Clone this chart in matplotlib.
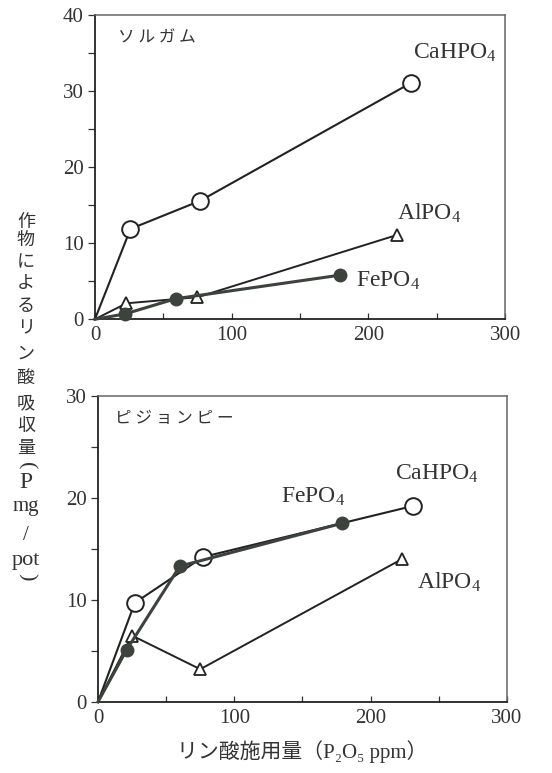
import matplotlib
matplotlib.use('Agg')
import matplotlib.pyplot as plt
from matplotlib.ticker import MultipleLocator, FuncFormatter

plt.rcParams['font.family'] = ['Liberation Serif', 'DejaVu Serif', 'Noto Sans CJK JP']
plt.rcParams['mathtext.fontset'] = 'custom'
plt.rcParams['mathtext.rm'] = 'Liberation Serif'
plt.rcParams['mathtext.default'] = 'rm'

# ソルガム (top)
sor_ca_x = [0, 26, 77, 231]
sor_ca_y = [0, 11.9, 15.6, 31.1]
sor_al_x = [0, 23, 75, 221]
sor_al_y = [0, 2.1, 2.9, 11.1]
sor_fe_x = [0, 22, 59, 179]
sor_fe_y = [0, 0.7, 2.7, 5.8]

# ピジョンピー (bottom)
pig_ca_x = [0, 27, 77, 231]
pig_ca_y = [0, 9.7, 14.2, 19.2]
pig_fe_x = [0, 21, 60, 179]
pig_fe_y = [0, 5.1, 13.3, 17.5]
pig_al_x = [0, 25, 75, 223]
pig_al_y = [0, 6.5, 3.2, 14.0]

# vertical y label, one piece per line
ylab = ['作', '物', 'に', 'よ', 'る', 'リ', 'ン', '酸', '吸', '収', '量',
        '(', 'P', 'mg', '/', 'pot', ')']

line_c = '#222222'
fill_c = '#3c423c'
txt_c = '#333333'

fig = plt.figure(figsize=(5.52, 7.73), dpi=100)
ax1 = fig.add_axes([0.172, 0.587, 0.743, 0.393])
ax2 = fig.add_axes([0.1775, 0.092, 0.741, 0.396])


def style(ax, ymax, ystep):
    ax.set_xlim(0, 300)
    ax.set_ylim(0, ymax)
    ax.xaxis.set_major_locator(MultipleLocator(100))
    ax.xaxis.set_minor_locator(MultipleLocator(50))
    ax.yaxis.set_major_locator(MultipleLocator(ystep))
    ax.yaxis.set_minor_locator(MultipleLocator(ystep / 2))
    fmt = FuncFormatter(lambda v, p: '%d' % v)
    ax.xaxis.set_major_formatter(fmt)
    ax.yaxis.set_major_formatter(fmt)
    ax.tick_params(axis='x', which='both', direction='in', length=4,
                   width=0.9, labelsize=15, pad=5, colors=txt_c)
    ax.tick_params(axis='y', which='both', direction='out', length=5,
                   width=0.9, labelsize=15, pad=3, colors=txt_c)
    for lab in ax.get_xticklabels() + ax.get_yticklabels():
        lab.set_fontfamily('Liberation Serif')
    for s in ['left', 'bottom']:
        ax.spines[s].set_linewidth(1.3)
        ax.spines[s].set_color('#222222')
    for s in ['top', 'right']:
        ax.spines[s].set_linewidth(1.1)
        ax.spines[s].set_color('#666666')


def draw(ax, x, y, kind):
    if kind == 'open':
        ax.plot(x, y, '-', color=line_c, lw=1.5, marker='o', ms=12,
                mfc='white', mec=line_c, mew=1.4, markevery=slice(1, None),
                clip_on=False, zorder=4)
    elif kind == 'tri':
        ax.plot(x, y, '-', color=line_c, lw=1.4, marker='^', ms=9,
                mfc='white', mec=line_c, mew=1.3, markevery=slice(1, None),
                clip_on=False, zorder=3)
    else:
        ax.plot(x, y, '-', color=fill_c, lw=2.2, marker='o', ms=9,
                mfc=fill_c, mec=fill_c, markevery=slice(1, None),
                clip_on=False, zorder=5)


style(ax1, 40, 10)
draw(ax1, sor_ca_x, sor_ca_y, 'open')
draw(ax1, sor_al_x, sor_al_y, 'tri')
draw(ax1, sor_fe_x, sor_fe_y, 'fill')
ax1.text(17, 37.1, 'ソ ル ガ ム', fontsize=12, va='center', color=txt_c,
         family=['Noto Sans CJK JP'])
ax1.text(233, 35.1, 'CaHPO$_4$', fontsize=17, va='center', color=txt_c)
ax1.text(221, 13.9, 'AlPO$_4$', fontsize=17, va='center', color=txt_c)
ax1.text(191, 5.0, 'FePO$_4$', fontsize=17, va='center', color=txt_c)

style(ax2, 30, 10)
draw(ax2, pig_ca_x, pig_ca_y, 'open')
draw(ax2, pig_al_x, pig_al_y, 'tri')
draw(ax2, pig_fe_x, pig_fe_y, 'fill')
ax2.text(12.5, 27.8, 'ピ ジ ョ ン ピ ー', fontsize=12, va='center', color=txt_c,
         family=['Noto Sans CJK JP'])
ax2.text(218, 22.3, 'CaHPO$_4$', fontsize=17, va='center', color=txt_c)
ax2.text(134, 20.1, 'FePO$_4$', fontsize=17, va='center', color=txt_c)
ax2.text(234, 11.7, 'AlPO$_4$', fontsize=17, va='center', color=txt_c)

ax2.set_xlabel('リン酸施用量（P₂O₅ ppm）', fontsize=15, labelpad=9,
               color=txt_c, family=['Liberation Serif', 'DejaVu Serif', 'Noto Sans CJK JP'])

# y label pieces stacked top to bottom (pixel rows from the top)
rows = [222, 240, 262, 283, 306, 328, 354, 378, 403, 426, 448,
        466, 483, 507, 535, 561, 577]
for ch, r in zip(ylab, rows):
    yy = 1 - r / 773
    if ch in '()':
        fig.text(0.047, yy, ch, fontsize=16, ha='center', va='center',
                 rotation=-90, color=txt_c, family='Liberation Serif')
    elif ch in ['P', 'mg', '/', 'pot']:
        fs = {'P': 17, 'mg': 15, '/': 15, 'pot': 16}[ch]
        fig.text(0.047, yy, ch, fontsize=fs, ha='center', va='center',
                 color=txt_c, family='Liberation Serif')
    else:
        fig.text(0.047, yy, ch, fontsize=13, ha='center', va='center',
                 color=txt_c, family='Noto Sans CJK JP')

fig.savefig('out.png', dpi=100)
